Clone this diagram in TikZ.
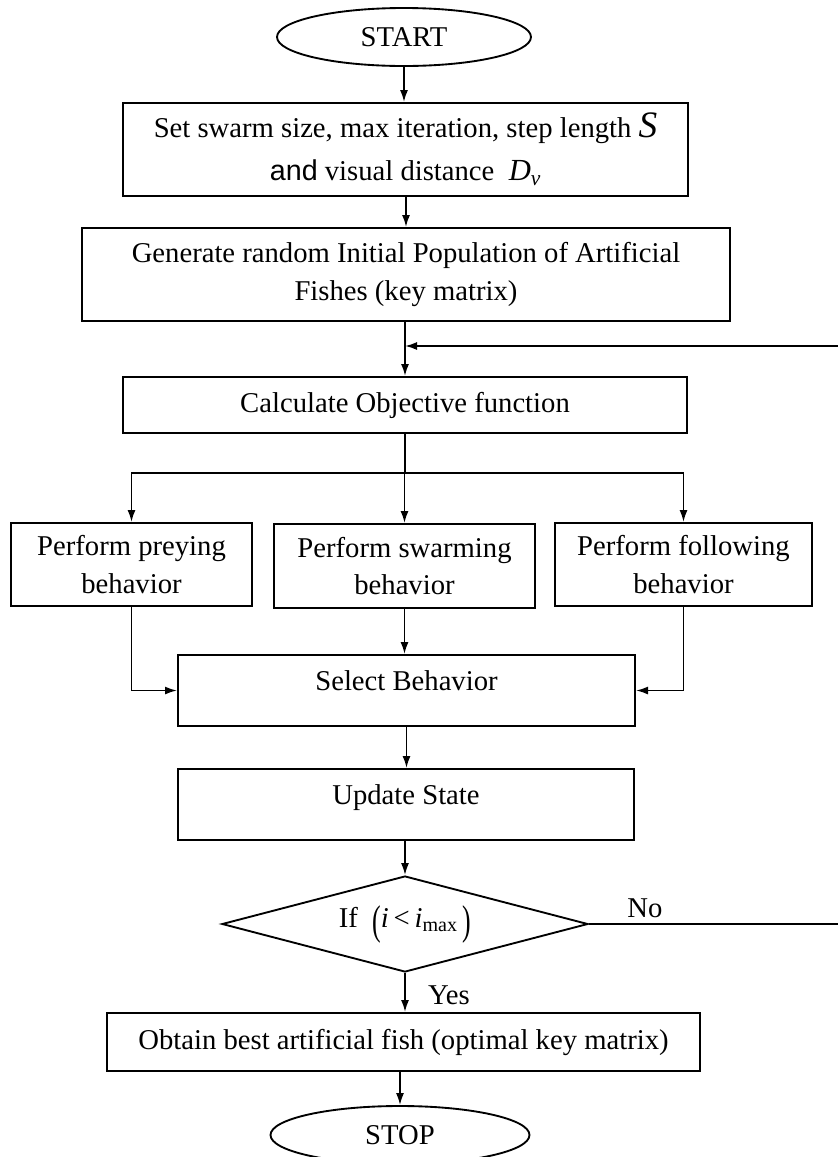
\documentclass[tikz,border=0pt]{standalone}
\usepackage{fontspec}
\usepackage{graphicx}
\setmainfont{Liberation Serif}
\setsansfont{Liberation Sans}
\usetikzlibrary{shapes.geometric,arrows.meta}
\newcommand{\tallparen}[1]{\raisebox{-0.22em}{\scalebox{0.9}[1.45]{#1}}}
\tikzset{
  box/.style={draw, line width=1.5pt, align=center, inner sep=0pt},
  oval/.style={ellipse, draw, line width=1.4pt, inner sep=0pt},
  decide/.style={diamond, draw, line width=1.4pt, inner sep=0pt, aspect=3.81},
  conn/.style={line width=1.3pt},
  arr/.style={conn, -{Latex[length=9pt,width=6pt]}},
  lbl/.style={inner sep=0pt},
  raised/.style={text height=10pt, text depth=10pt}
}
\begin{document}
\begin{tikzpicture}[x=0.75pt, y=-0.75pt, font=\fontsize{21.5}{28}\selectfont]
\useasboundingbox (0,0) rectangle (838,1157);
\fill[white] (0,0) rectangle (838,1157);

\node[oval, minimum width=190.5pt, minimum height=43.5pt] (start) at (404,37) {START};

\node[box, minimum width=423.75pt, minimum height=69.75pt] (b1) at (405.5,149.5)
  {Set swarm size, max iteration, step length {\itshape\fontsize{28}{28}\selectfont S}\\[4pt]
   {\sffamily and} visual distance\ \ {\itshape\fontsize{23}{28}\selectfont D\textsubscript{\itshape v}}};

\node[box, minimum width=486pt, minimum height=69.75pt] (b2) at (406,274.5)
  {Generate random Initial Population of Artificial\\ Fishes (key matrix)};

\node[box, minimum width=423pt, minimum height=42pt] (calc) at (405,405)
  {Calculate Objective function};

\node[box, minimum width=180.75pt, minimum height=62.25pt] (prey) at (131.5,564.5)
  {Perform preying\\ behavior};
\node[box, minimum width=195.75pt, minimum height=63pt] (swarm) at (404.5,566)
  {Perform swarming\\ behavior};
\node[box, minimum width=192.75pt, minimum height=62.25pt] (follow) at (683.5,564.5)
  {Perform following\\ behavior};

\node[box, raised, minimum width=342.75pt, minimum height=53.25pt] (select) at (406.5,690.5)
  {Select Behavior};
\node[box, raised, minimum width=342pt, minimum height=53.25pt] (update) at (406,804.5)
  {Update State};

\node[decide, minimum width=274.5pt, minimum height=72pt] (dec) at (405,924)
  {If\ \ \tallparen{(}\textit{i}\,<\,\textit{i}\textsubscript{max}\,\tallparen{)}};

\node[box, minimum width=444.75pt, minimum height=43.5pt] (obtain) at (403.5,1042)
  {Obtain best artificial fish (optimal key matrix)};

\node[oval, minimum width=194.25pt, minimum height=43.5pt] (stop) at (400,1135) {STOP};

\node[lbl] (no) at (645,908) {No};
\node[lbl] (yes) at (449,995) {Yes};

% connectors
\draw[arr] (start.south) -- (start.south |- b1.north);
\draw[arr] (b1.south -| b2) -- (b2.north);
\draw[arr] (b2.south -| calc) -- (calc.north);
\coordinate (jn) at (405,473);
\draw[conn] (calc.south) -- (jn);
\draw[arr] (jn) -| (prey.north);
\draw[arr] (jn -| swarm) -- (swarm.north);
\draw[arr] (jn) -| (follow.north);
\draw[arr] (prey.south) |- (select.west);
\draw[arr] (swarm.south) -- (swarm.south |- select.north);
\draw[arr] (follow.south) |- (select.east);
\draw[arr] (select.south) -- (select.south |- update.north);
\draw[arr] (update.south -| dec) -- (dec.north);
\draw[arr] (dec.south) -- (dec.south |- obtain.north);
\draw[arr] (obtain.south -| stop) -- (stop.north);
\coordinate (loop) at (845,346);
\draw[arr] (dec.east) -- (dec.east -| loop) -- (loop) -- (loop -| calc.north);
\end{tikzpicture}
\end{document}
